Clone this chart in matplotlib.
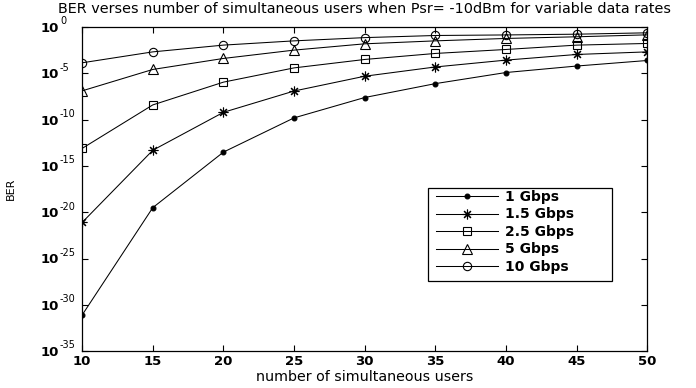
import matplotlib
matplotlib.use("Agg")
import matplotlib.pyplot as plt
import numpy as np
from matplotlib.patches import Rectangle
from matplotlib.ticker import FixedLocator, FuncFormatter, NullFormatter

# numero de usuarios simultaneos
usuarios = [10, 15, 20, 25, 30, 35, 40, 45, 50]

# log10(BER) por tasa de datos
log_ber_1g = [-31.1, -19.5, -13.5, -9.8, -7.6, -6.1, -4.9, -4.2, -3.6]
log_ber_1_5g = [-21.1, -13.3, -9.2, -6.9, -5.3, -4.3, -3.56, -2.95, -2.67]
log_ber_2_5g = [-13.1, -8.4, -5.94, -4.4, -3.49, -2.84, -2.41, -1.94, -1.76]
log_ber_5g = [-6.88, -4.57, -3.38, -2.48, -1.8, -1.48, -1.22, -1.04, -0.83]
log_ber_10g = [-3.85, -2.67, -1.94, -1.48, -1.13, -0.9, -0.84, -0.76, -0.61]

etiquetas = ["1 Gbps", "1.5 Gbps", "2.5 Gbps", "5 Gbps", "10 Gbps"]
exponentes = list(range(-35, 1, 5))

series = [log_ber_1g, log_ber_1_5g, log_ber_2_5g, log_ber_5g, log_ber_10g]
marcadores = [
    dict(marker=".", markersize=7),
    dict(marker=(8, 2, 0), markersize=7),
    dict(marker="s", markersize=6, markerfacecolor="none"),
    dict(marker="^", markersize=6.5, markerfacecolor="none"),
    dict(marker="o", markersize=6, markerfacecolor="none"),
]

W, H = 696, 388
fig = plt.figure(figsize=(W / 100, H / 100), dpi=100)
ax = fig.add_axes([0.118, 0.095, 0.812, 0.835])

for valores, etiqueta, estilo in zip(series, etiquetas, marcadores):
    ax.semilogy(usuarios, 10.0 ** np.array(valores), color="black",
                linewidth=0.75, markeredgewidth=0.8, label=etiqueta, **estilo)

ax.set_xlim(10, 50)
ax.set_ylim(1e-35, 1e0)
ax.xaxis.set_major_locator(FixedLocator(usuarios))
ax.yaxis.set_major_locator(FixedLocator([10.0 ** e for e in exponentes]))
ax.yaxis.set_minor_locator(FixedLocator([]))
ax.yaxis.set_major_formatter(NullFormatter())
ax.xaxis.set_major_formatter(FuncFormatter(lambda v, pos: "%d" % v))
ax.tick_params(axis="both", which="both", direction="in", top=True, right=True,
               length=4, width=0.8, labelsize=9.5)
for lbl in ax.get_xticklabels():
    lbl.set_fontweight("bold")
ax.tick_params(axis="x", pad=3)

# etiquetas del eje y estilo 10 con exponente pequeño
for e in exponentes:
    ax.annotate("10", xy=(0, 10.0 ** e), xycoords=("axes fraction", "data"),
                xytext=(-17, -1), textcoords="offset points", ha="right", va="center",
                fontsize=9.5, fontweight="bold", annotation_clip=False)
    ax.annotate("%d" % e, xy=(0, 10.0 ** e), xycoords=("axes fraction", "data"),
                xytext=(-16, 0.5), textcoords="offset points", ha="left", va="bottom",
                fontsize=7, annotation_clip=False)

for sp in ax.spines.values():
    sp.set_linewidth(0.9)

ax.set_title("BER verses number of simultaneous users when Psr= -10dBm for variable data rates",
             fontsize=10.4, pad=10.5)
ax.set_xlabel("number of simultaneous users", fontsize=10.3, labelpad=1)
ax.set_ylabel("BER", fontsize=8, labelpad=44)

# leyenda sin marco + recuadro propio con margen a la derecha
leg = ax.legend(loc="upper left", bbox_to_anchor=(436 / W, 1 - 190 / H),
                bbox_transform=fig.transFigure, frameon=False,
                handlelength=4.5, handletextpad=0.5,
                prop=dict(weight="bold", size=10),
                borderpad=0, labelspacing=0.25, borderaxespad=0)
ax.add_patch(Rectangle((428 / W, 1 - 281 / H), 184 / W, 93 / H,
                       transform=fig.transFigure, facecolor="white",
                       edgecolor="black", linewidth=0.9, zorder=4, clip_on=False))

fig.savefig("out.png", dpi=100)
